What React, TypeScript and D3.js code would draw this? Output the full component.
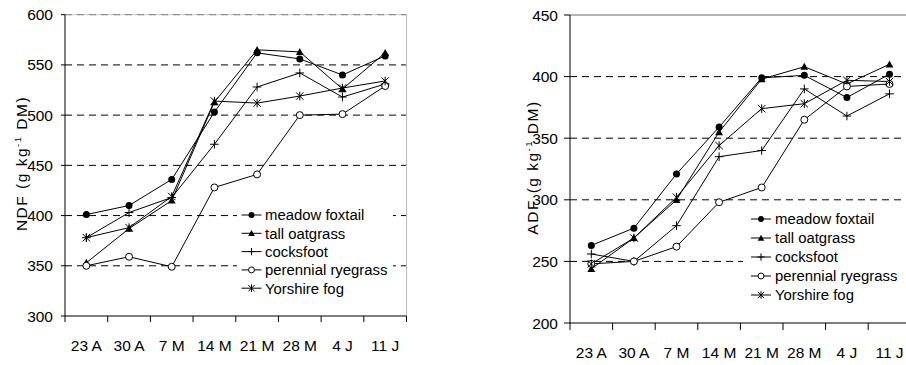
import React from "react";
import * as d3 from "d3";

// ---------- data ----------
const categories = ["23 A", "30 A", "7 M", "14 M", "21 M", "28 M", "4 J", "11 J"];
const seriesNames = ["meadow foxtail", "tall oatgrass", "cocksfoot", "perennial ryegrass", "Yorshire fog"];
const markerTypes = ["dot", "triangle", "plus", "circle", "star"];

const ndfMeadowFoxtail = [401, 410, 436, 503, 562, 556, 540, 559];
const ndfTallOatgrass = [353, 387, 415, 513, 565, 563, 526, 562];
const ndfCocksfoot = [378, 403, 418, 471, 528, 542, 518, 531];
const ndfPerennialRyegrass = [350, 359, 349, 428, 441, 500, 501, 529];
const ndfYorshireFog = [378, 388, 419, 514, 512, 519, 527, 534];

const adfMeadowFoxtail = [263, 277, 321, 359, 399, 401, 383, 402];
const adfTallOatgrass = [244, 269, 300, 355, 398, 408, 394, 410];
const adfCocksfoot = [256, 250, 279, 335, 340, 390, 368, 386];
const adfPerennialRyegrass = [248, 250, 262, 298, 310, 365, 392, 394];
const adfYorshireFog = [248, 269, 302, 344, 374, 378, 397, 396];

const ndfTicks = [300, 350, 400, 450, 500, 550, 600];
const adfTicks = [200, 250, 300, 350, 400, 450];

const ndfSeries = [ndfMeadowFoxtail, ndfTallOatgrass, ndfCocksfoot, ndfPerennialRyegrass, ndfYorshireFog];
const adfSeries = [adfMeadowFoxtail, adfTallOatgrass, adfCocksfoot, adfPerennialRyegrass, adfYorshireFog];

const FONT = "'Liberation Sans', Arial, sans-serif";

function Marker({ type, x, y, s = 1 }: { type: string; x: number; y: number; s?: number }) {
  const st = { stroke: "#000", strokeWidth: 1 };
  if (type === "dot") return <circle cx={x} cy={y} r={3.5 * s} fill="#000" />;
  if (type === "circle") return <circle cx={x} cy={y} r={3.5 * s} fill="#fff" {...st} />;
  if (type === "triangle") {
    const h = 3.9 * s;
    return <path d={`M${x},${y - h}L${x + h},${y + h * 0.8}L${x - h},${y + h * 0.8}Z`} fill="#000" />;
  }
  if (type === "plus") {
    const h = 4.3 * s;
    return <path d={`M${x - h},${y}H${x + h}M${x},${y - h}V${y + h}`} fill="none" {...st} />;
  }
  const h = 3.7 * s;
  return (
    <path
      d={`M${x - h},${y - h}L${x + h},${y + h}M${x - h},${y + h}L${x + h},${y - h}M${x},${y - h - 0.6}V${y + h + 0.6}`}
      fill="none"
      {...st}
    />
  );
}

type ChartProps = {
  series: number[][];
  ticks: number[];
  x0: number;
  x1: number;
  yTop: number;
  yBottom: number;
  tickLen: number;
  xTickLen: number;
  labelBaseline: number;
  yLabel: string;
  yLabelX: number;
  yLabelY: number;
  legend: { x: number; y: number; w: number; h: number; rowY: number; rowH: number; lineX: number; textX: number };
  leftStyle: boolean;
};

function Chart(p: ChartProps) {
  const y = d3.scaleLinear().domain([p.ticks[0], p.ticks[p.ticks.length - 1]]).range([p.yBottom, p.yTop]);
  const xb = d3.scaleBand().domain(categories).range([p.x0, p.x1]).paddingInner(0).paddingOuter(0);
  const cx = (c: string) => (xb(c) as number) + xb.bandwidth() / 2;
  const line = d3
    .line<number>()
    .x((_, i) => cx(categories[i]))
    .y((v) => y(v));
  const bounds = d3.range(categories.length + 1).map((i) => p.x0 + i * xb.bandwidth());
  const L = p.legend;
  const inner = p.ticks.slice(1, -1);
  const top = p.ticks[p.ticks.length - 1];
  return (
    <g>
      {inner.map((t) => (
        <line key={t} x1={p.x0} x2={p.x1} y1={y(t)} y2={y(t)} stroke="#000" strokeWidth={1} strokeDasharray="7,5" />
      ))}
      {p.leftStyle ? (
        <g>
          <line x1={p.x0} x2={p.x1} y1={y(top)} y2={y(top)} stroke="#c8c8c8" strokeWidth={1} />
          <line x1={p.x0} x2={p.x1} y1={y(top)} y2={y(top)} stroke="#808080" strokeWidth={1} strokeDasharray="7,5" />
          <line x1={p.x1} x2={p.x1} y1={y(top)} y2={p.yBottom} stroke="#c0c0c0" strokeWidth={1.2} />
        </g>
      ) : (
        <line x1={p.x0} x2={p.x1} y1={y(top)} y2={y(top)} stroke="#6a6a6a" strokeWidth={1} />
      )}
      <rect x={L.x} y={L.y} width={L.w} height={L.h} fill="#fff" />
      <line x1={p.x0} x2={p.x0} y1={p.yTop} y2={p.yBottom} stroke="#000" strokeWidth={1} />
      <line x1={p.x0} x2={p.x1} y1={p.yBottom} y2={p.yBottom} stroke="#000" strokeWidth={1} />
      {p.ticks.map((t) => (
        <g key={t}>
          <line x1={p.x0 - p.tickLen} x2={p.x0} y1={y(t)} y2={y(t)} stroke="#000" />
          <text x={p.x0 - 12} y={y(t)} dy="0.36em" textAnchor="end" fontSize={15.5} fontFamily={FONT} fill="#000">
            {t}
          </text>
        </g>
      ))}
      {bounds.map((b, i) => (
        <line key={i} x1={b} x2={b} y1={p.yBottom} y2={p.yBottom + p.xTickLen} stroke="#000" />
      ))}
      {categories.map((c) => (
        <text key={c} x={cx(c)} y={p.labelBaseline} textAnchor="middle" fontSize={15.5} fontFamily={FONT} fill="#000">
          {c}
        </text>
      ))}
      <text
        transform={`translate(${p.yLabelX},${p.yLabelY}) rotate(-90)`}
        textAnchor="middle"
        fontSize={15.5}
        fontFamily={FONT}
        letterSpacing={1.5}
        fill="#000"
      >
        {p.yLabel + " (g kg"}
        <tspan fontSize={9.5} dy={-6}>
          -1
        </tspan>
        <tspan dy={6}> DM)</tspan>
      </text>
      {p.series.map((s, si) => (
        <path key={"l" + si} d={line(s) as string} fill="none" stroke="#000" strokeWidth={1} />
      ))}
      {p.series.map((s, si) =>
        s.map((v, i) => <Marker key={si + "-" + i} type={markerTypes[si]} x={cx(categories[i])} y={y(v)} />)
      )}
      {seriesNames.map((n, i) => {
        const ry = L.rowY + i * L.rowH;
        return (
          <g key={n}>
            <line x1={L.lineX} x2={L.lineX + 20} y1={ry} y2={ry} stroke="#000" />
            <Marker type={markerTypes[i]} x={L.lineX + 10} y={ry} s={0.85} />
            <text x={L.textX} y={ry} dy="0.36em" fontSize={14.9} fontFamily={FONT} fill="#000">
              {n}
            </text>
          </g>
        );
      })}
    </g>
  );
}

export default function App() {
  return (
    <svg
      width={906}
      height={365}
      style={{ position: "absolute", left: 0, top: 0, background: "#fff" }}
      viewBox="0 0 906 365"
    >
      <rect x={0} y={0} width={906} height={365} fill="#fff" />
      <Chart
        series={ndfSeries}
        ticks={ndfTicks}
        x0={65}
        x1={406.5}
        yTop={14.7}
        yBottom={316}
        tickLen={4}
        xTickLen={6}
        labelBaseline={350.5}
        yLabel="NDF"
        yLabelX={27}
        yLabelY={163.5}
        legend={{ x: 237, y: 204, w: 156, h: 94, rowY: 215, rowH: 18.3, lineX: 241.5, textX: 265 }}
        leftStyle={true}
      />
      <Chart
        series={adfSeries}
        ticks={adfTicks}
        x0={570}
        x1={910.8}
        yTop={15}
        yBottom={323}
        tickLen={6}
        xTickLen={7}
        labelBaseline={358}
        yLabel="ADF"
        yLabelX={537.5}
        yLabelY={167.5}
        legend={{ x: 743, y: 207, w: 170, h: 98, rowY: 219, rowH: 19, lineX: 751, textX: 775 }}
        leftStyle={false}
      />
    </svg>
  );
}
